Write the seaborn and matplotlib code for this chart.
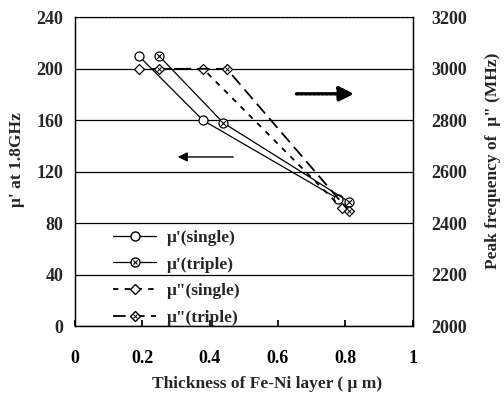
import matplotlib
matplotlib.use("Agg")
import matplotlib.pyplot as plt
import seaborn as sns
import pandas as pd
from matplotlib.legend_handler import HandlerTuple
from matplotlib.lines import Line2D

# ---- data ----
mu1_single_x = [0.19, 0.38, 0.78]
mu1_single_y = [210, 160, 99]
mu1_triple_x = [0.25, 0.44, 0.81]
mu1_triple_y = [210, 158, 97]
mu2_single_x = [0.19, 0.38, 0.79]
mu2_single_y = [3000, 3000, 2460]
mu2_triple_x = [0.25, 0.45, 0.81]
mu2_triple_y = [3000, 3000, 2450]

left_ticks = [0, 40, 80, 120, 160, 200, 240]
right_ticks = [2000, 2200, 2400, 2600, 2800, 3000, 3200]
x_ticks = [0, 0.2, 0.4, 0.6, 0.8, 1]
x_labels = ["0", "0.2", "0.4", "0.6", "0.8", "1"]
legend_labels = ["μ'(single)", "μ'(triple)", "μ\"(single)", "μ\"(triple)"]

sns.set_theme(style="white")
plt.rcParams["font.family"] = ["Liberation Serif", "DejaVu Serif"]
plt.rcParams["font.weight"] = "bold"

fig = plt.figure(figsize=(5.04, 4.03), dpi=100)
ax = fig.add_axes([0.148, 0.190, 0.671, 0.767])
ax2 = ax.twinx()

def series(x, y):
    return pd.DataFrame({"x": x, "y": y})

lw = 0.9
ms = 6.5
ls_single = (0, (3, 3.5))
ls_triple = (0, (7, 3.5))
# mu' single
sns.lineplot(data=series(mu1_single_x, mu1_single_y), x="x", y="y", ax=ax,
             color="black", lw=lw, marker="o", markersize=ms,
             markerfacecolor="white", markeredgecolor="black", markeredgewidth=0.9)
# mu' triple (hatched circles)
sns.lineplot(data=series(mu1_triple_x, mu1_triple_y), x="x", y="y", ax=ax,
             color="black", lw=lw, marker="o", markersize=ms,
             markerfacecolor="white", markeredgecolor="black", markeredgewidth=0.9)
sns.scatterplot(data=series(mu1_triple_x, mu1_triple_y), x="x", y="y", ax=ax,
                marker="x", s=12, color="black", linewidth=0.8, zorder=5)
# mu'' single
sns.lineplot(data=series(mu2_single_x, mu2_single_y), x="x", y="y", ax=ax2,
             color="black", lw=1.3, linestyle=ls_single, marker="D", markersize=5,
             markerfacecolor="white", markeredgecolor="black", markeredgewidth=0.9)
# mu'' triple
sns.lineplot(data=series(mu2_triple_x, mu2_triple_y), x="x", y="y", ax=ax2,
             color="black", lw=1.3, linestyle=ls_triple, marker="D", markersize=5,
             markerfacecolor="white", markeredgecolor="black", markeredgewidth=0.9)
sns.scatterplot(data=series(mu2_triple_x, mu2_triple_y), x="x", y="y", ax=ax2,
                marker="x", s=8, color="black", linewidth=0.7, zorder=5)

ax.set_xlim(0, 1)
ax.set_ylim(0, 240)
ax2.set_ylim(2000, 3200)
ax.set_xticks(x_ticks)
ax.set_xticklabels(x_labels)
ax.set_yticks(left_ticks)
ax2.set_yticks(right_ticks)
ax.yaxis.grid(True, color="black", lw=0.9)
ax.xaxis.grid(False)
ax2.grid(False)

fs = 12.5
tfs = 13
ax.tick_params(axis="x", direction="in", length=4, pad=17, labelsize=tfs, bottom=True, colors="black")
ax.tick_params(axis="y", direction="in", length=0, pad=8, labelsize=tfs, left=False)
ax2.tick_params(axis="y", direction="in", length=0, pad=13, labelsize=tfs, right=False)
for t in ax.get_xticklabels() + ax.get_yticklabels() + ax2.get_yticklabels():
    t.set_fontweight("bold")

for a in (ax, ax2):
    for s in a.spines.values():
        s.set_color("black")
        s.set_linewidth(0.9)
ax2.spines["top"].set_linestyle((0, (1.5, 1.5)))
ax.spines["top"].set_visible(False)

ax.set_xlabel("Thickness of Fe-Ni layer ( μ m)", fontsize=fs, fontweight="bold")
ax.set_ylabel("μ' at 1.8GHz", fontsize=fs, fontweight="bold")
ax2.set_ylabel("Peak frequency of  μ\" (MHz)", fontsize=fs, fontweight="bold")
ax.xaxis.set_label_coords(0.57, -0.16)
ax.yaxis.set_label_coords(-0.147, 0.54)
ax2.yaxis.set_label_coords(1.214, 0.535)

# arrows
ax.annotate("", xy=(0.297, 131.6), xytext=(0.477, 131.6),
            arrowprops=dict(arrowstyle="-|>", color="black", lw=1.0,
                            mutation_scale=14))
ax.annotate("", xy=(0.835, 180.6), xytext=(0.648, 180.6),
            arrowprops=dict(arrowstyle="-|>", color="black", lw=2.5,
                            linestyle=(0, (0.6, 0.6)), mutation_scale=22))

# legend
h1 = Line2D([], [], color="black", lw=lw, marker="o", markersize=ms,
            markerfacecolor="white", markeredgecolor="black")
h2a = Line2D([], [], color="black", lw=lw, marker="o", markersize=ms,
             markerfacecolor="white", markeredgecolor="black")
h2b = Line2D([], [], color="black", lw=0, marker="x", markersize=3.5, markeredgewidth=0.8)
h3 = Line2D([], [], color="black", lw=1.3, linestyle=ls_single, marker="D", markersize=5,
            markerfacecolor="white", markeredgecolor="black")
h4a = Line2D([], [], color="black", lw=1.3, linestyle=ls_triple, marker="D", markersize=5,
             markerfacecolor="white", markeredgecolor="black")
h4b = Line2D([], [], color="black", lw=0, marker="x", markersize=2.8, markeredgewidth=0.7)
leg = ax.legend([h1, (h2a, h2b), h3, (h4a, h4b)], legend_labels,
                handler_map={tuple: HandlerTuple(ndivide=1, pad=0)},
                loc="lower left", bbox_to_anchor=(0.067, -0.048), frameon=False,
                handlelength=2.5, labelspacing=0.6, handletextpad=0.6,
                prop={"weight": "bold", "size": fs})
ax2.set_zorder(ax.get_zorder() + 1)
ax2.patch.set_visible(False)

fig.savefig("out.png", dpi=100, facecolor="white")
